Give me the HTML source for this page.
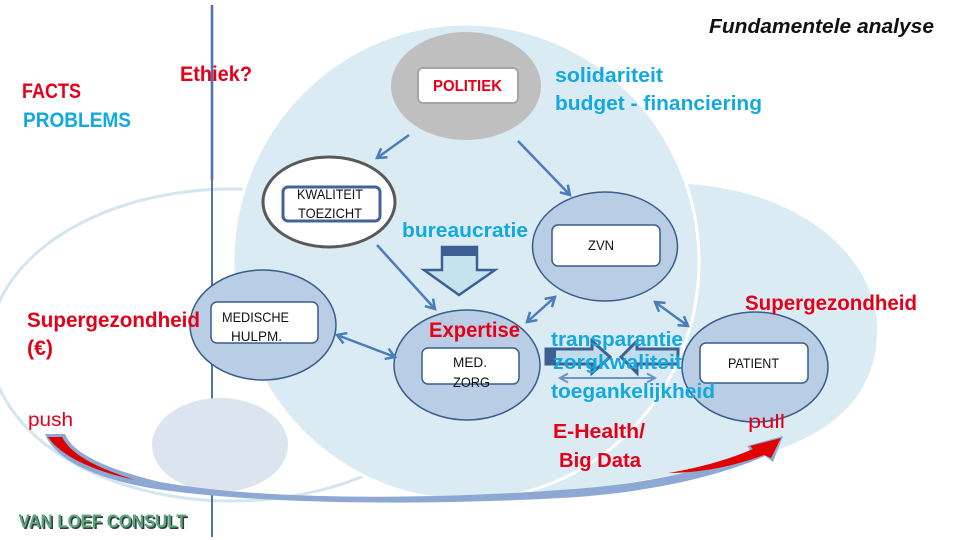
<!DOCTYPE html>
<html><head><meta charset="utf-8"><style>
html,body{margin:0;padding:0;background:#fff;}
svg{display:block;}
text{font-family:"Liberation Sans",Arial,sans-serif;}
</style></head><body>
<svg width="960" height="540" viewBox="0 0 960 540" xmlns="http://www.w3.org/2000/svg">
<defs>
<marker id="ah" markerUnits="userSpaceOnUse" markerWidth="14" markerHeight="14" refX="11" refY="7" orient="auto-start-reverse">
<path d="M2,1.5 L11,7 L2,12.5" fill="none" stroke="#4a7dba" stroke-width="2.5"/>
</marker>
<marker id="ah2" markerUnits="userSpaceOnUse" markerWidth="14" markerHeight="14" refX="11" refY="7" orient="auto-start-reverse">
<path d="M3,2.5 L11,7 L3,11.5" fill="none" stroke="#6a93c8" stroke-width="2"/>
</marker>
</defs>
<rect width="960" height="540" fill="#fff"/>

<!-- left big outline ellipse -->
<ellipse cx="232" cy="345" rx="242" ry="156" fill="none" stroke="#d3e6ef" stroke-width="3"/>

<!-- right ellipse -->
<path d="M 500,300 L 600,190 C 650,178 730,180 790,210 C 850,240 880,290 877,335 C 875,390 840,425 790,445 C 730,470 640,480 540,497 L 450,450 Z" fill="#dbebf3"/>
<!-- main circle -->
<ellipse cx="466" cy="262" rx="233" ry="238" fill="#dbebf3" stroke="#fff" stroke-width="3"/>

<!-- vertical line -->
<line x1="212" y1="5" x2="212" y2="180" stroke="#4f74ad" stroke-width="2.6"/>
<line x1="212" y1="180" x2="212" y2="537" stroke="#4f74ad" stroke-width="2"/>

<!-- small gray ellipse -->
<ellipse cx="220" cy="445" rx="68" ry="47" fill="#dce4f0"/>

<!-- POLITIEK -->
<ellipse cx="466" cy="86" rx="75" ry="54" fill="#bfbfbf"/>
<rect x="418" y="68" width="100" height="35" rx="5" fill="#fff" stroke="#a5a5a5" stroke-width="2"/>
<text x="433" y="91" font-size="16" font-weight="bold" fill="#e5001a" textLength="69" lengthAdjust="spacingAndGlyphs">POLITIEK</text>

<!-- KWALITEIT TOEZICHT -->
<ellipse cx="329" cy="202" rx="66" ry="45" fill="#fff" stroke="#595959" stroke-width="3"/>
<rect x="283" y="187" width="97" height="34" rx="5" fill="#fff" stroke="#41639c" stroke-width="3"/>
<text x="297" y="199" font-size="14" fill="#111" textLength="66" lengthAdjust="spacingAndGlyphs">KWALITEIT</text>
<text x="298" y="218" font-size="14" fill="#111" textLength="64" lengthAdjust="spacingAndGlyphs">TOEZICHT</text>

<!-- ZVN -->
<ellipse cx="605" cy="246.5" rx="72.5" ry="54.5" fill="#b9cde5" stroke="#385d8a" stroke-width="1.5"/>
<rect x="552" y="225" width="108" height="41" rx="6" fill="#fff" stroke="#385d8a" stroke-width="1.5"/>
<text x="588" y="250" font-size="14" fill="#111" textLength="26" lengthAdjust="spacingAndGlyphs">ZVN</text>

<!-- MEDISCHE HULPM -->
<ellipse cx="263" cy="325" rx="73" ry="55" fill="#b9cde5" stroke="#385d8a" stroke-width="1.5"/>
<rect x="211" y="302" width="107" height="41" rx="6" fill="#fff" stroke="#385d8a" stroke-width="1.5"/>
<text x="222" y="322" font-size="14" fill="#111" textLength="67" lengthAdjust="spacingAndGlyphs">MEDISCHE</text>
<text x="231" y="341" font-size="14" fill="#111" textLength="51" lengthAdjust="spacingAndGlyphs">HULPM.</text>

<!-- MED ZORG -->
<ellipse cx="467" cy="365" rx="73" ry="55" fill="#b9cde5" stroke="#385d8a" stroke-width="1.5"/>
<rect x="422" y="348" width="97" height="36" rx="6" fill="#fff" stroke="#385d8a" stroke-width="1.5"/>
<text x="453" y="367" font-size="14" fill="#111" textLength="34" lengthAdjust="spacingAndGlyphs">MED.</text>
<text x="453" y="387" font-size="14" fill="#111" textLength="37" lengthAdjust="spacingAndGlyphs">ZORG</text>

<!-- PATIENT -->
<ellipse cx="755" cy="367" rx="73" ry="55" fill="#b9cde5" stroke="#385d8a" stroke-width="1.5"/>
<rect x="700" y="343" width="108" height="40" rx="6" fill="#fff" stroke="#385d8a" stroke-width="1.5"/>
<text x="728" y="368" font-size="14" fill="#111" textLength="51" lengthAdjust="spacingAndGlyphs">PATIENT</text>

<!-- connector arrows -->
<g stroke="#4a7dba" stroke-width="2.5" fill="none">
<line x1="409" y1="135" x2="377" y2="158" marker-end="url(#ah)"/>
<line x1="518" y1="141" x2="570" y2="195" marker-end="url(#ah)"/>
<line x1="377" y1="245" x2="435" y2="309" marker-end="url(#ah)"/>
<line x1="337" y1="335" x2="395" y2="357" marker-start="url(#ah)" marker-end="url(#ah)"/>
<line x1="527" y1="322" x2="555" y2="297" marker-start="url(#ah)" marker-end="url(#ah)"/>
<line x1="655" y1="302" x2="688" y2="326" marker-start="url(#ah)" marker-end="url(#ah)"/>
</g>

<!-- bureaucratie down arrow -->
<polygon points="442,247 477,247 477,270 495,270 459,295 424,270 442,270" fill="#c5e3ec" stroke="#3c5e94" stroke-width="2.5" stroke-linejoin="miter"/>
<rect x="442" y="247" width="35" height="9" fill="#3c5e94"/>

<!-- block arrows -->
<polygon points="546,349 592,349 592,341 610,357 592,373 592,364 546,364" fill="#c0dcea" stroke="#3e5f93" stroke-width="3"/>
<rect x="546" y="349" width="10" height="15" fill="#3e5f93"/>
<polygon points="678,349 637,349 637,341 621,357 637,373 637,364 678,364" fill="#c0dcea" stroke="#3e5f93" stroke-width="3"/>
<line x1="560" y1="378" x2="655" y2="378" stroke="#6a93c8" stroke-width="2" marker-start="url(#ah2)" marker-end="url(#ah2)"/>

<!-- texts -->
<text x="709" y="33" font-size="20" font-weight="bold" font-style="italic" fill="#111" textLength="225" lengthAdjust="spacingAndGlyphs">Fundamentele analyse</text>
<text x="22" y="98" font-size="21" font-weight="bold" fill="#e5001a" textLength="59" lengthAdjust="spacingAndGlyphs">FACTS</text>
<text x="23" y="127" font-size="21" font-weight="bold" fill="#12a8e0" textLength="108" lengthAdjust="spacingAndGlyphs">PROBLEMS</text>
<text x="180" y="81" font-size="21" font-weight="bold" fill="#e5001a" textLength="72" lengthAdjust="spacingAndGlyphs">Ethiek?</text>
<text x="555" y="82" font-size="20" font-weight="bold" fill="#12a8e0" textLength="108" lengthAdjust="spacingAndGlyphs">solidariteit</text>
<text x="555" y="110" font-size="20" font-weight="bold" fill="#12a8e0" textLength="207" lengthAdjust="spacingAndGlyphs">budget - financiering</text>
<text x="402" y="237" font-size="20" font-weight="bold" fill="#12a8e0" textLength="126" lengthAdjust="spacingAndGlyphs">bureaucratie</text>
<text x="429" y="337" font-size="21" font-weight="bold" fill="#e5001a" textLength="91" lengthAdjust="spacingAndGlyphs">Expertise</text>
<text x="27" y="327" font-size="21" font-weight="bold" fill="#e5001a" textLength="173" lengthAdjust="spacingAndGlyphs">Supergezondheid</text>
<text x="27" y="355" font-size="21" font-weight="bold" fill="#e5001a" textLength="26" lengthAdjust="spacingAndGlyphs">(€)</text>
<text x="745" y="310" font-size="21" font-weight="bold" fill="#e5001a" textLength="172" lengthAdjust="spacingAndGlyphs">Supergezondheid</text>
<text x="551" y="346" font-size="20" font-weight="bold" fill="#12a8e0" textLength="132" lengthAdjust="spacingAndGlyphs">transparantie</text>
<text x="553" y="369" font-size="20" font-weight="bold" fill="#12a8e0" textLength="129" lengthAdjust="spacingAndGlyphs">zorgkwaliteit</text>
<text x="551" y="398" font-size="20" font-weight="bold" fill="#12a8e0" textLength="164" lengthAdjust="spacingAndGlyphs">toegankelijkheid</text>
<text x="553" y="438" font-size="20" font-weight="bold" fill="#e5001a" textLength="92" lengthAdjust="spacingAndGlyphs">E-Health/</text>
<text x="559" y="467" font-size="20" font-weight="bold" fill="#e5001a" textLength="82" lengthAdjust="spacingAndGlyphs">Big Data</text>
<text x="28" y="426" font-size="19" fill="#e5001a" textLength="45" lengthAdjust="spacingAndGlyphs">push</text>
<text x="748" y="428" font-size="19" fill="#e5001a" textLength="37" lengthAdjust="spacingAndGlyphs">pull</text>

<!-- push / pull curved arrow -->
<path d="M 45,434 L 65,434 C 72,452 102,468 160,482 C 260,500 420,500 560,490 C 650,484 710,470 750,450 L 747,446 L 783,436 L 773,462 L 765,456 C 715,478 640,494 560,498 C 420,506 250,504 150,488 C 95,478 55,460 45,434 Z" fill="#8ea8d4"/>
<path d="M 48,437 L 62,437 C 72,456 98,468 135,480 C 98,472 62,458 48,437 Z" fill="#d80000"/>
<path d="M 668,473 C 705,467 735,457 753,449 L 750,446 L 781,438 L 771,458 L 764,455 C 735,466 700,473 668,473 Z" fill="#e00000"/>

<!-- logo -->
<text x="20" y="529" font-size="18" font-weight="bold" fill="#3a3a3a" textLength="168" lengthAdjust="spacingAndGlyphs">VAN LOEF CONSULT</text>
<text x="18.5" y="527.5" font-size="18" font-weight="bold" fill="#5aa880" textLength="168" lengthAdjust="spacingAndGlyphs">VAN LOEF CONSULT</text>
</svg>
</body></html>
